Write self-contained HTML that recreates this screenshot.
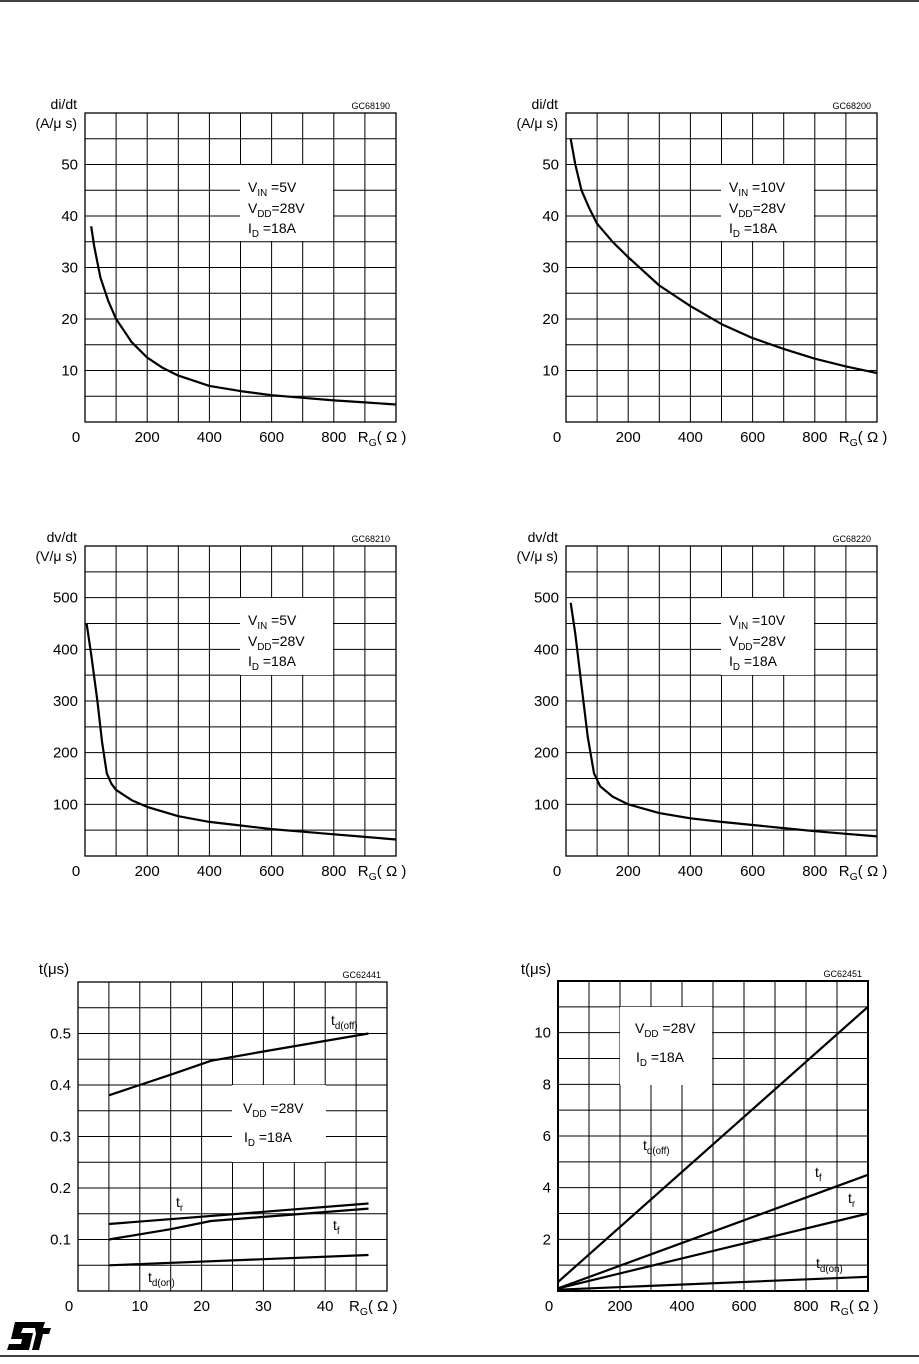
<!DOCTYPE html>
<html><head><meta charset="utf-8"><style>
html,body{margin:0;padding:0;background:#fff;}
svg text{font-family:"Liberation Sans",sans-serif;fill:#000;}
</style></head><body>
<svg id="s" width="919" height="1359" xmlns="http://www.w3.org/2000/svg">
<line x1="0" y1="1" x2="919" y2="1" stroke="#000" stroke-width="1.5"/>
<line x1="0" y1="1356" x2="919" y2="1356" stroke="#000" stroke-width="1.5"/>
<g transform="translate(7,1322)"><path d="M8 0 H38 L36 6 H16 L14 11 H26 L22 28 H0 L2 22 H14 L15 17 H4 Z" fill="#000"/><path d="M28 6 H44 L42 12 H36 L32 28 H25 L29 12 Z" fill="#000"/></g>
</svg>
<script>
const S=document.getElementById('s');const NS='http://www.w3.org/2000/svg';
function el(t,a,txt){const e=document.createElementNS(NS,t);for(const k in a)e.setAttribute(k,a[k]);if(txt!==undefined)e.textContent=txt;S.appendChild(e);return e;}
function txt(x,y,s,size,anchor){return el('text',{x:x,y:y,'font-size':size||14,'text-anchor':anchor||'start'},s);}
function sub(x,y,main,subs,rest,size){const t=el('text',{x:x,y:y,'font-size':size||14});
 const a=document.createElementNS(NS,'tspan');a.textContent=main;t.appendChild(a);
 const b=document.createElementNS(NS,'tspan');b.setAttribute('font-size',(size||14)*0.7);b.setAttribute('dy',4);b.textContent=subs;t.appendChild(b);
 const c=document.createElementNS(NS,'tspan');c.setAttribute('dy',-4);c.textContent=rest;t.appendChild(c);}
function chart(c){
 const {L,T,W,H,xmax,ymax,bw}=c;
 const X=v=>L+v/xmax*W, Y=v=>T+H-v/ymax*H;
 for(let i=1;i<10;i++){const x=L+i*W/10;el('line',{x1:x,y1:T,x2:x,y2:T+H,stroke:'#000','stroke-width':1});}
 for(let j=1;j<12;j++){const y=T+j*H/12;el('line',{x1:L,y1:y,x2:L+W,y2:y,stroke:'#000','stroke-width':1});}
 el('rect',{x:L,y:T,width:W,height:H,fill:'none',stroke:'#000','stroke-width':bw||1.3});
 if(c.box){const b=c.box;el('rect',{x:b[0],y:b[1],width:b[2]-b[0],height:b[3]-b[1],fill:'#fff'});}
 c.series.forEach(p=>{el('polyline',{points:p.map(q=>X(q[0]).toFixed(1)+','+Y(q[1]).toFixed(1)).join(' '),fill:'none',stroke:'#000','stroke-width':2.2,'stroke-linejoin':'round'});});
 c.yl.forEach(v=>txt(L-7,Y(v[0])+5,v[1],15,'end'));
 txt(L-9,T+H+20,'0',15,'middle');
 c.xl.forEach(v=>txt(X(v[0]),T+H+20,v[1],15,'middle'));
 const rx=L+W*0.89;sub(rx-4,T+H+20,'R','G','( Ω )',15);
 txt(L+W-6,T-4,c.code,9,'end');
 if(c.title){txt(L-8,T-4,c.title[0],14,'end');txt(L-8,T+15,c.title[1],14,'end');}
}
const xl=[[200,'200'],[400,'400'],[600,'600'],[800,'800']];
const yA=[[10,'10'],[20,'20'],[30,'30'],[40,'40'],[50,'50']];
const yC=[[100,'100'],[200,'200'],[300,'300'],[400,'400'],[500,'500']];
chart({L:85,T:113,W:311,H:309,xmax:1000,ymax:60,code:'GC68190',title:['di/dt','(A/μ s)'],box:[240,165,333,241],xl:xl,yl:yA,
 series:[[[20,38],[30,34],[50,28],[75,23.5],[100,20],[150,15.5],[200,12.5],[250,10.5],[300,9],[400,7],[500,6],[600,5.2],[700,4.7],[800,4.2],[900,3.8],[1000,3.4]]]});
sub(248,192,'V','IN',' =5V');sub(248,213,'V','DD','=28V');sub(248,233,'I','D',' =18A');
chart({L:566,T:113,W:311,H:309,xmax:1000,ymax:60,code:'GC68200',title:['di/dt','(A/μ s)'],box:[721,165,814,241],xl:xl,yl:yA,
 series:[[[15,55],[30,50],[50,45],[75,41.5],[100,38.5],[150,35],[200,32],[300,26.5],[400,22.5],[500,19],[600,16.3],[700,14.2],[800,12.3],[900,10.8],[1000,9.5]]]});
sub(729,192,'V','IN',' =10V');sub(729,213,'V','DD','=28V');sub(729,233,'I','D',' =18A');
chart({L:85,T:546,W:311,H:310,xmax:1000,ymax:600,code:'GC68210',title:['dv/dt','(V/μ s)'],box:[240,598,333,675],xl:xl,yl:yC,
 series:[[[5,450],[20,390],[40,300],[55,220],[70,160],[85,140],[100,128],[150,108],[200,95],[300,77],[400,66],[500,59],[600,52],[700,47],[800,42],[900,37],[1000,32]]]});
sub(248,625,'V','IN',' =5V');sub(248,646,'V','DD','=28V');sub(248,666,'I','D',' =18A');
chart({L:566,T:546,W:311,H:310,xmax:1000,ymax:600,code:'GC68220',title:['dv/dt','(V/μ s)'],box:[721,598,814,675],xl:xl,yl:yC,
 series:[[[15,490],[30,430],[50,330],[70,230],[90,160],[110,135],[150,115],[200,100],[300,83],[400,73],[500,66],[600,60],[700,54],[800,48],[900,43],[1000,38]]]});
sub(729,625,'V','IN',' =10V');sub(729,646,'V','DD','=28V');sub(729,666,'I','D',' =18A');
chart({L:78,T:982,W:309,H:309,xmax:50,ymax:0.6,code:'GC62441',box:[232,1085,326,1162],
 xl:[[10,'10'],[20,'20'],[30,'30'],[40,'40']],yl:[[0.1,'0.1'],[0.2,'0.2'],[0.3,'0.3'],[0.4,'0.4'],[0.5,'0.5']],
 series:[[[5,0.38],[10,0.4],[15,0.42],[21.5,0.447],[30,0.465],[47,0.5]],[[5,0.13],[47,0.17]],[[5,0.1],[10,0.11],[15,0.12],[21.5,0.136],[47,0.16]],[[5,0.05],[47,0.07]]]});
txt(54,974,'t(μs)',15,'middle');
sub(243,1113,'V','DD',' =28V');sub(244,1142,'I','D',' =18A');
sub(331,1025,'t','d(off)','',14);sub(176,1207,'t','r','',14);sub(333,1230,'t','f','',14);sub(148,1282,'t','d(on)','',14);
chart({L:558,T:981,W:310,H:310,xmax:1000,ymax:12,bw:2,code:'GC62451',box:[620,1007,712,1085],
 xl:xl,yl:[[2,'2'],[4,'4'],[6,'6'],[8,'8'],[10,'10']],
 series:[[[0,0.35],[1000,11]],[[0,0.1],[1000,4.5]],[[0,0.1],[1000,3]],[[0,0.05],[1000,0.55]]]});
txt(536,974,'t(μs)',15,'middle');
sub(635,1033,'V','DD',' =28V');sub(636,1062,'I','D',' =18A');
sub(643,1150,'t','d(off)','',14);sub(815,1177,'t','f','',14);sub(848,1203,'t','r','',14);sub(816,1268,'t','d(on)','',14);
</script>
</body></html>
